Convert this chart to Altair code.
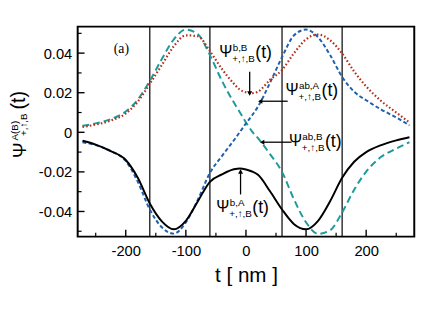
import altair as alt
import pandas as pd

# ---------------- data ----------------
t_nm = [-272, -250, -225, -200, -180, -160, -140, -120, -100, -80, -60, -40, -20, -10,
        0, 10, 20, 40, 60, 80, 100, 120, 140, 160, 180, 200, 225, 250, 272]
psi_ab_B = [0.0033, 0.0045, 0.0066, 0.0105, 0.0165, 0.026, 0.037, 0.047, 0.0519, 0.0495,
            0.039, 0.026, 0.015, 0.010, 0.005, 0.0005, -0.003, -0.011, -0.020, -0.034,
            -0.0455, -0.0513, -0.0495, -0.0405, -0.029, -0.0199, -0.0124, -0.0083, -0.005]
psi_ab_A = [-0.005, -0.0065, -0.0095, -0.0145, -0.025, -0.039, -0.048, -0.0512, -0.0455, -0.034,
            -0.0205, -0.012, -0.004, 0.0002, 0.0045, 0.0085, 0.013, 0.025, 0.038, 0.049,
            0.0519, 0.048, 0.039, 0.028, 0.0205, 0.0162, 0.0115, 0.0075, 0.0035]
psi_b_B = [0.0027, 0.0039, 0.0059, 0.0095, 0.0155, 0.0245, 0.034, 0.0435, 0.049, 0.0485,
           0.041, 0.032, 0.0245, 0.0215, 0.0202, 0.0198, 0.0205, 0.0265, 0.0315, 0.040,
           0.047, 0.0494, 0.0465, 0.0398, 0.0307, 0.0232, 0.0158, 0.010, 0.005]
psi_b_A = [-0.0043, -0.0062, -0.0095, -0.014, -0.023, -0.036, -0.045, -0.049, -0.0447, -0.0348,
           -0.025, -0.0213, -0.0187, -0.0183, -0.0188, -0.0198, -0.0215, -0.0298, -0.039, -0.0464,
           -0.049, -0.0447, -0.0348, -0.023, -0.0149, -0.010, -0.0065, -0.0041, -0.0025]

guide_lines = [-160, -60, 60, 160]
x_ticks = [-200, -100, 0, 100, 200]
x_minor = [-250, -150, -50, 50, 150, 250]
y_ticks = [-0.04, -0.02, 0, 0.02, 0.04]
y_minor = [-0.05, -0.03, -0.01, 0.01, 0.03, 0.05]

# annotation anchors (data units) and texts
ann_t = [-33.5, 76.7, 82.4, -38.4]
ann_v = [0.0407, 0.0212, -0.0046, -0.0376]
ann_sup = ["b,B", "ab,A", "ab,B", "b,A"]
ann_sub = ["+,\u2191,B"] * 4
# arrows (data units): tail -> head
arr_t = [6.2, 69.4, 75.9, -9.0]
arr_v = [0.0306, 0.0157, -0.0050, -0.0314]
arr_t2 = [6.2, 23.7, 26.9, -9.0]
arr_v2 = [0.0196, 0.0157, -0.0050, -0.0198]
arr_head = ["triangle-down", "triangle-left", "triangle-left", "triangle-up"]

W, H = 343, 214
FONT = "Liberation Sans"

rows = []
for name, vals in [("abB", psi_ab_B), ("abA", psi_ab_A), ("bB", psi_b_B), ("bA", psi_b_A)]:
    for t, v in zip(t_nm, vals):
        rows.append({"t": t, "v": v, "s": name})
df = pd.DataFrame(rows)

xs = alt.Scale(domain=[-280, 280], nice=False)
ys = alt.Scale(domain=[-0.0527, 0.0534], nice=False, zero=False)

X = alt.X("t:Q", scale=xs, axis=alt.Axis(
    values=x_ticks, title="t [ nm ]", ticks=False, domain=False, grid=False,
    labelFont=FONT, labelFontSize=15, labelPadding=7, labelColor="black",
    labelExpr="(datum.value < 0 ? '-' : '') + abs(datum.value)",
    titleFont=FONT, titleFontSize=21, titleFontWeight="normal", titleColor="black",
    titleY=46, titleBaseline="alphabetic"))
Y = alt.Y("v:Q", scale=ys, axis=alt.Axis(
    values=y_ticks, title=None, ticks=False, domain=False, grid=False,
    labelFont=FONT, labelFontSize=15, labelPadding=6, labelColor="black",
    labelExpr="datum.value == 0 ? '0' : (datum.value < 0 ? '-' : '') + format(abs(datum.value), '.2f')"))


def curve(name, **kw):
    return alt.Chart(df).transform_filter(alt.datum.s == name).mark_line(
        interpolate="monotone", **kw).encode(x=X, y=Y)


teal = curve("abB", color="#1b9b99", strokeWidth=2, strokeDash=[7, 4])
blue = curve("abA", color="#1e5fae", strokeWidth=2, strokeDash=[4, 2.5])
red = curve("bB", color="#b2301e", strokeWidth=2.2, strokeDash=[1.6, 2.2])
black = curve("bA", color="black", strokeWidth=2)

vlines = alt.Chart(pd.DataFrame({"t": guide_lines})).mark_rule(
    color="black", strokeWidth=1.2).encode(x=X)

xt_major = alt.Chart(pd.DataFrame({"t": x_ticks})).mark_rule(color="black", strokeWidth=1.4).encode(
    x=X, y=alt.value(H), y2=alt.value(H - 7))
xt_minor = alt.Chart(pd.DataFrame({"t": x_minor})).mark_rule(color="black", strokeWidth=1.2).encode(
    x=X, y=alt.value(H), y2=alt.value(H - 4))
yt_major = alt.Chart(pd.DataFrame({"v": y_ticks})).mark_rule(color="black", strokeWidth=1.4).encode(
    y=Y, x=alt.value(0), x2=alt.value(7))
yt_minor = alt.Chart(pd.DataFrame({"v": y_minor})).mark_rule(color="black", strokeWidth=1.2).encode(
    y=Y, x=alt.value(0), x2=alt.value(4))

ann = pd.DataFrame({"t": ann_t, "v": ann_v, "sup": ann_sup, "sub": ann_sub})
ann_base = alt.Chart(ann)
psi_txt = ann_base.mark_text(font=FONT, fontSize=16, align="center", baseline="middle", color="black").encode(
    x=X, y=Y, text=alt.value("\u03a8"))
sup_txt = ann_base.mark_text(font=FONT, fontSize=10, align="left", baseline="middle", dx=7, dy=-4,
                             color="black").encode(x=X, y=Y, text="sup:N")
sub_txt = ann_base.mark_text(font=FONT, fontSize=10, align="left", baseline="middle", dx=6.5, dy=7,
                             color="black").encode(x=X, y=Y, text="sub:N")
t_txt = ann_base.mark_text(font=FONT, fontSize=18, align="left", baseline="middle", dx=30, dy=1,
                           color="black").encode(x=X, y=Y, text=alt.value("(t)"))

arr = pd.DataFrame({"t": arr_t, "v": arr_v, "t2": arr_t2, "v2": arr_v2})
tips = pd.DataFrame({"t": arr_t2, "v": arr_v2, "head": arr_head})
shafts = alt.Chart(arr).mark_rule(color="black", strokeWidth=1.3).encode(
    x=X, y=Y, x2="t2:Q", y2="v2:Q")
heads = alt.Chart(tips).mark_point(filled=True, color="black", size=26, opacity=1).encode(
    x=X, y=Y, shape=alt.Shape("head:N", scale=None))

panel = alt.Chart(pd.DataFrame({"t": [-207.3], "v": [0.042]})).mark_text(
    font="Liberation Serif", fontSize=14, align="center", baseline="middle", color="black").encode(
    x=X, y=Y, text=alt.value("(a)"))

one = pd.DataFrame({"a": [0]})


def ytitle(txt, px, py, size):
    return alt.Chart(one).mark_text(font=FONT, fontSize=size, angle=270, align="center",
                                    baseline="middle", color="black").encode(
        x=alt.value(px), y=alt.value(py), text=alt.value(txt))


yt1 = ytitle("\u03a8", -58.5, 126, 19)
yt2 = ytitle("A(B)", -64, 106, 10)
yt3 = ytitle("+,\u2191,B", -54.5, 100, 10)
yt4 = ytitle("(t)", -59.5, 75, 20)

chart = alt.layer(
    vlines, teal, blue, red, black, xt_major, xt_minor, yt_major, yt_minor,
    shafts, heads, psi_txt, sup_txt, sub_txt, t_txt, panel, yt1, yt2, yt3, yt4
).properties(
    width=W, height=H,
    autosize=alt.AutoSizeParams(type="none"),
    padding={"left": 71, "top": 16, "right": 14, "bottom": 81},
).configure_view(stroke="black", strokeWidth=2)

chart.save("out.html", embed_options={"renderer": "svg", "actions": False})
